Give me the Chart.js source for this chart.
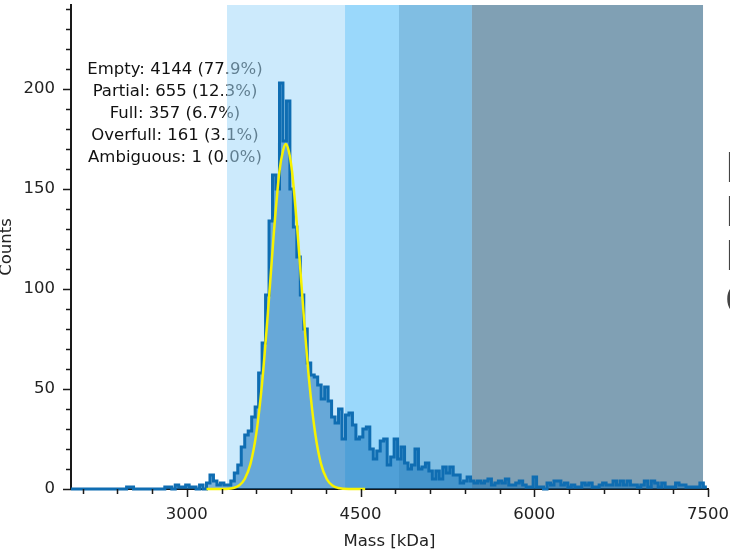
<!DOCTYPE html>
<html>
<head>
<meta charset="utf-8">
<script src="https://cdn.jsdelivr.net/npm/chart.js@4.4.1/dist/chart.umd.min.js"></script>
<style>
  html, body { margin: 0; padding: 0; background: #fff; }
  #wrap { width: 730px; height: 551px; }
</style>
</head>
<body>
<div id="wrap"><canvas id="massChart" width="730" height="551"></canvas></div>
<script>
// histogram: 30 kDa bins starting at 2000 kDa
const binStart = 2000;
const binWidth = 30;
const counts = [
  0, 0, 0, 0, 0, 0, 0, 0, 0, 0, 0, 0, 0, 0, 0, 0,
  1, 1,
  0, 0, 0, 0, 0, 0, 0, 0, 0,
  1, 1, 0, 2, 1, 1, 2, 1, 1, 0, 2, 0, 3, 7, 4, 2, 3, 2, 2, 4,
  8, 12, 21, 27, 29, 36, 41, 58, 73, 97, 134, 157, 150, 203, 174, 194,
  150, 131, 116, 97, 80, 63, 57, 56, 52, 45, 51, 44, 36, 33, 40, 25,
  37, 38, 32, 25, 26, 30, 31, 20, 15, 19, 24, 25, 12, 16, 25, 15, 21, 13,
  10, 12, 20, 10, 11, 13, 9, 5, 9, 5, 11, 8, 11, 7, 7, 3, 4,
  6, 4, 3, 4, 3, 4, 5, 2, 3, 4, 3, 5, 2, 2, 3, 4, 2, 1, 1, 6,
  1, 1, 0, 3, 2, 4, 4, 2, 3, 1, 2, 1, 1, 3, 2, 3, 1, 1, 2, 3,
  2, 2, 4, 2, 4, 2, 4, 2, 2, 1, 2, 4, 1, 4, 3, 1, 3, 1, 1, 1,
  3, 2, 2, 1, 1, 1, 1, 3, 1
];

// gaussian fit
const fitMass = [3170, 3300, 3400, 3450, 3500, 3550, 3600, 3650, 3700, 3750, 3800, 3830, 3854,
  3880, 3908, 3958, 4008, 4058, 4108, 4158, 4208, 4258, 4308, 4400, 4540];
const fitCounts = [0, 0, 0.5, 1.7, 5, 12.7, 27.8, 53, 88, 127, 159, 169, 172.5,
  169, 159, 127, 88, 53, 28, 12.7, 5, 1.7, 0.5, 0, 0];

// classification bands (kDa)
const bandEdges = [3347, 4366, 4832, 5462, 7457];
const bandColors = ['rgba(162,217,250,0.55)', '#9ad8fb', '#80bee3', '#80a0b4'];

const summaryLines = [
  'Empty: 4144 (77.9%)',
  'Partial: 655 (12.3%)',
  'Full: 357 (6.7%)',
  'Overfull: 161 (3.1%)',
  'Ambiguous: 1 (0.0%)',
];
const legendNames = ['Empty', 'Partial', 'Full', 'Overfull'];

const xMajorTicks = [3000, 4500, 6000, 7500];
const yMajorTicks = [0, 50, 100, 150, 200];
const xMinorStep = 300;
const yMinorStep = 10;

const FONT = '"DejaVu Sans", sans-serif';

const histPoints = counts.map((c, i) => ({ x: binStart + i * binWidth, y: c }));
histPoints.push({ x: binStart + counts.length * binWidth, y: counts[counts.length - 1] });
const fitPoints = fitMass.map((m, i) => ({ x: m, y: fitCounts[i] }));

function noPadding(s) {
  s.paddingLeft = 0;
  s.paddingRight = 0;
  s.paddingTop = 0;
  s.paddingBottom = 0;
}

const backdrop = {
  id: 'backdrop',
  beforeDraw(chart) {
    const { ctx, chartArea, scales: { x } } = chart;
    ctx.save();
    // summary text sits under the bands
    ctx.font = '16.5px ' + FONT;
    ctx.fillStyle = '#111';
    ctx.textAlign = 'center';
    ctx.textBaseline = 'alphabetic';
    summaryLines.forEach((t, i) => ctx.fillText(t, 175, 74 + i * 22));
    for (let i = 0; i < bandColors.length; i++) {
      const x0 = x.getPixelForValue(bandEdges[i]);
      const x1 = x.getPixelForValue(bandEdges[i + 1]);
      ctx.fillStyle = bandColors[i];
      ctx.fillRect(x0, chartArea.top, x1 - x0, chartArea.bottom - chartArea.top);
    }
    ctx.restore();
  },
  afterDraw(chart) {
    const { ctx, chartArea, scales: { x, y } } = chart;
    ctx.save();
    ctx.strokeStyle = '#1a1a1a';
    ctx.lineWidth = 1.5;
    ctx.beginPath();
    for (let v = 2100; v <= 7500; v += xMinorStep) {
      const px = Math.round(x.getPixelForValue(v)) + 0.5;
      const len = xMajorTicks.includes(v) ? 8 : 5;
      ctx.moveTo(px, chartArea.bottom);
      ctx.lineTo(px, chartArea.bottom + len);
    }
    for (let v = 0; v <= 240; v += yMinorStep) {
      const py = Math.round(y.getPixelForValue(v)) + 0.5;
      const len = yMajorTicks.includes(v) ? 8 : 5;
      ctx.moveTo(chartArea.left, py);
      ctx.lineTo(chartArea.left - len, py);
    }
    ctx.stroke();

    ctx.fillStyle = '#222';
    ctx.font = '16.5px ' + FONT;
    ctx.textAlign = 'center';
    ctx.fillText('Mass [kDa]', (chartArea.left + chartArea.right) / 2, 546);
    ctx.save();
    ctx.translate(11, (chartArea.top + chartArea.bottom) / 2);
    ctx.rotate(-Math.PI / 2);
    ctx.fillText('Counts', 0, 0);
    ctx.restore();

    // legend text running off the right edge
    ctx.fillStyle = '#444';
    ctx.font = '40px ' + FONT;
    ctx.textAlign = 'left';
    legendNames.forEach((t, i) => ctx.fillText(t, 725, 182 + i * 44));
    ctx.restore();
  }
};

new Chart(document.getElementById('massChart'), {
  type: 'line',
  data: {
    datasets: [
      {
        label: 'Fit',
        data: fitPoints,
        borderColor: '#f7f200',
        borderWidth: 2.5,
        pointRadius: 0,
        cubicInterpolationMode: 'monotone',
        fill: false,
        clip: false,
      },
      {
        label: 'Mass histogram',
        data: histPoints,
        stepped: true,
        borderColor: '#0f6db2',
        backgroundColor: 'rgba(20,115,185,0.55)',
        borderWidth: 3,
        pointRadius: 0,
        fill: 'origin',
        clip: false,
      },
    ],
  },
  options: {
    responsive: false,
    animation: false,
    layout: { padding: { top: 5, right: 22, left: 0, bottom: 0 } },
    plugins: { legend: { display: false }, tooltip: { enabled: false } },
    scales: {
      x: {
        type: 'linear',
        min: 2000,
        max: 7500,
        afterBuildTicks: (s) => { s.ticks = xMajorTicks.map(v => ({ value: v })); },
        afterFit: (s) => { s.height = 62; noPadding(s); },
        ticks: {
          color: '#222', font: { family: FONT, size: 16.5 }, padding: 16,
          maxRotation: 0, autoSkip: false, callback: (v) => String(v),
        },
        grid: { display: false, drawTicks: false },
        border: { display: true, color: '#1a1a1a', width: 2 },
      },
      y: {
        min: 0,
        max: 242,
        afterBuildTicks: (s) => { s.ticks = yMajorTicks.map(v => ({ value: v })); },
        afterFit: (s) => { s.width = 71; noPadding(s); },
        ticks: { color: '#222', font: { family: FONT, size: 16.5 }, padding: 16, callback: (v) => String(v) },
        grid: { display: false, drawTicks: false },
        border: { display: true, color: '#1a1a1a', width: 2 },
      },
    },
  },
  plugins: [backdrop],
});
</script>
</body>
</html>
